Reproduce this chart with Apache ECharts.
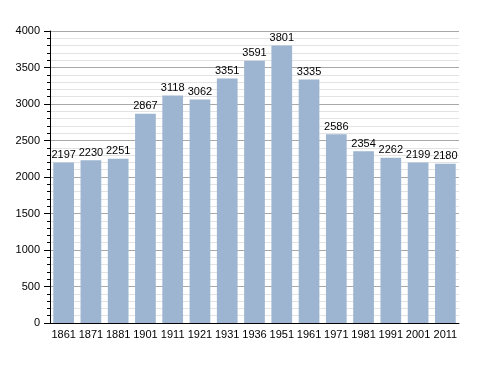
<!DOCTYPE html>
<html><head><meta charset="utf-8">
<script src="https://cdn.jsdelivr.net/npm/echarts@6/dist/echarts.min.js"></script>
<style>html,body{margin:0;padding:0;background:#fff}#c{width:488px;height:373px}</style>
</head><body><div id="c"></div>
<script>
const years = ['1861','1871','1881','1901','1911','1921','1931','1936','1951','1961','1971','1981','1991','2001','2011'];
const population = [2197,2230,2251,2867,3118,3062,3351,3591,3801,3335,2586,2354,2262,2199,2180];
const yTicks = {min:0, max:4000, interval:500};

const chart = echarts.init(document.getElementById('c'), null, {renderer:'canvas'});
chart.setOption({
  animation:false,
  backgroundColor:'#fff',
  grid:{left:50, right:29, top:31, bottom:50, containLabel:false},
  xAxis:{
    type:'category', data:years,
    axisLine:{lineStyle:{color:'#000', width:1}},
    axisTick:{show:false},
    axisLabel:{color:'#000', fontFamily:'Liberation Sans, Arial, sans-serif', fontSize:11, margin:6, interval:0}
  },
  yAxis:{
    type:'value', min:yTicks.min, max:yTicks.max, interval:yTicks.interval,
    axisLine:{show:true, lineStyle:{color:'#000', width:1}},
    axisTick:{show:true, length:6, lineStyle:{color:'#000'}},
    minorTick:{show:true, splitNumber:5, length:3, lineStyle:{color:'#000'}},
    splitLine:{show:true, lineStyle:{color:'#a8a8a8', width:1}},
    minorSplitLine:{show:true, lineStyle:{color:'#e3e3e3', width:1}},
    axisLabel:{color:'#000', fontFamily:'Liberation Sans, Arial, sans-serif', fontSize:11, margin:10, formatter:function(v){return String(v);}}
  },
  series:[{
    type:'bar', data:population, barCategoryGap:'24%',
    itemStyle:{color:'#9db5d0'},
    label:{show:true, position:'top', distance:2, color:'#000', fontFamily:'Liberation Sans, Arial, sans-serif', fontSize:11}
  }]
});
</script></body></html>
